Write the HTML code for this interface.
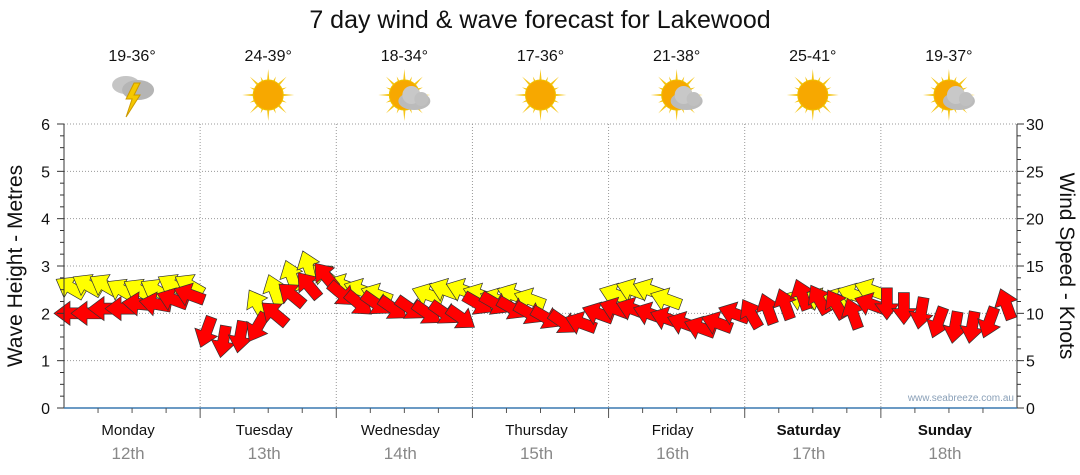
<!DOCTYPE html>
<html><head><meta charset="utf-8"><style>
body{margin:0;background:#fff;font-family:"Liberation Sans","DejaVu Sans",sans-serif}
svg{display:block}
</style></head><body>
<svg id="chart" width="1080" height="475" font-family="Liberation Sans, DejaVu Sans, sans-serif">
<text x="540" y="28" font-size="25" text-anchor="middle" fill="#111">7 day wind &amp; wave forecast for Lakewood</text>
<g id="grid"></g><g id="icons"></g><g id="marks"></g><g id="axes"></g>
<text transform="translate(22,266) rotate(-90)" font-size="21" text-anchor="middle" fill="#111">Wave Height - Metres</text>
<text transform="translate(1060,266) rotate(90)" font-size="21" text-anchor="middle" fill="#111">Wind Speed - Knots</text>
<text x="1014" y="401" font-size="10" text-anchor="end" fill="#8aa0b8">www.seabreeze.com.au</text>
</svg>
<script>
const days=["Monday","Tuesday","Wednesday","Thursday","Friday","Saturday","Sunday"];
const dates=["12th","13th","14th","15th","16th","17th","18th"];
const temps=["19-36°","24-39°","18-34°","17-36°","21-38°","25-41°","19-37°"];
const weather=["storm","sun","partly","sun","partly","sun","partly"];
const leftTicks=[0,1,2,3,4,5,6];
const rightTicks=[0,5,10,15,20,25,30];
const windKnots=[10,10,10.5,10.5,11,11,11.5,12, 8,7,7.5,8.5,10,12,13,14, 12,11,11,10.5,10.5,10,10,9.5, 11,11,10.5,10,9.5,9,9,10, 10.5,10.5,10,9.5,9,8.5,9,10, 10,10.5,11,12,11.5,11,10,11, 11,10.5,10,9,8.5,8.5,9,11];
const windDir=[180,180,180,180,185,190,200,200, 110,100,100,120,220,220,230,230, 40,40,35,35,35,35,35,35, 30,30,30,30,30,35,200,200, 200,200,200,200,200,200,200,200, 240,250,250,250,240,240,250,200, 90,90,100,110,100,100,110,250];
const waveHeight=[2.55,2.6,2.6,2.5,2.5,2.5,2.6,2.6, null,null,null,2.2,2.5,2.8,3.0,2.8, 2.6,2.5,2.4,null,null,2.4,2.5,2.5, 2.4,2.3,2.4,2.3,null,null,null,null, 2.4,2.5,2.5,2.3,null,null,null,null, null,null,null,2.3,2.3,2.3,2.4,2.5, null,null,null,null,null,null,null,null];
const waveDir=[210,210,210,210,210,210,210,210, 250,250,250,240,250,250,250,220, 200,200,200,200,200,200,200,200, 200,200,200,200,200,200,200,200, 200,200,200,200,200,200,200,200, 200,200,200,200,200,200,200,200, 200,200,200,200,200,200,200,200];

const X0=64,X1=1017,Y0=408,Y1=124,NS="http://www.w3.org/2000/svg";
const dayW=(X1-X0)/7;
function xT(i){return X0+i*dayW/8+6;}
function yM(m){return Y0-(m/6)*(Y0-Y1);}
function yK(k){return Y0-(k/30)*(Y0-Y1);}
function mk(tag,attrs,parent,text){const e=document.createElementNS(NS,tag);for(const k in attrs)e.setAttribute(k,attrs[k]);if(text!==undefined)e.textContent=text;parent.appendChild(e);return e;}
const grid=document.getElementById('grid'),axes=document.getElementById('axes'),marks=document.getElementById('marks'),icons=document.getElementById('icons');
leftTicks.forEach((v,i)=>{const y=yM(v);
 if(v>0){const g=mk('line',{x1:X0,x2:X1,y1:y,y2:y,stroke:'#999','stroke-dasharray':'1,2'},grid);}
 const t=mk('text',{x:50,y:y+6,'font-size':16,'text-anchor':'end',fill:'#111'},axes,v);
 const r=mk('text',{x:1026,y:yK(rightTicks[i])+6,'font-size':16,fill:'#111'},axes,rightTicks[i]);
});
for(let m=0;m<=24;m++){const y=yM(m/4);mk('line',{x1:X0-(m%4?4:7),x2:X0,y1:y,y2:y,stroke:'#333'},axes);mk('line',{x1:X1,x2:X1+(m%4?4:7),y1:y,y2:y,stroke:'#333'},axes);}
mk('line',{x1:X0,x2:X0,y1:Y1,y2:Y0,stroke:'#333'},axes);
mk('line',{x1:X1,x2:X1,y1:Y1,y2:Y0,stroke:'#333'},axes);
mk('line',{x1:X0,x2:X1,y1:Y0,y2:Y0,stroke:'#3a78b0','stroke-width':1.5},axes);
days.forEach((d,i)=>{const cx=X0+dayW*(i+0.5);
 if(i>0){const g=mk('line',{x1:X0+dayW*i,x2:X0+dayW*i,y1:Y1,y2:Y0+3,stroke:'#999','stroke-dasharray':'1,2'},grid);mk('line',{x1:X0+dayW*i,x2:X0+dayW*i,y1:Y0,y2:Y0+10,stroke:'#555'},axes);}
 [0.25,0.5,0.75].forEach(f=>mk('line',{x1:X0+dayW*(i+f),x2:X0+dayW*(i+f),y1:Y0,y2:Y0+5,stroke:'#555'},axes));
 const a=mk('text',{x:cx-4,y:435,'font-size':15,'text-anchor':'middle',fill:'#111','font-weight':i>=5?'bold':'normal'},axes,d);
 const b=mk('text',{x:cx-4,y:459,'font-size':17,'text-anchor':'middle',fill:'#888'},axes,dates[i]);
 const t=mk('text',{x:cx,y:61,'font-size':16,'text-anchor':'middle',fill:'#111'},icons,temps[i]);
 const g=mk('g',{transform:`translate(${cx},95)`},icons);
 const w=weather[i];
 if(w!=='storm'){for(let k=0;k<16;k++){const an=k*Math.PI/8,L=k%2?20:26;mk('polygon',{points:`${Math.cos(an)*L},${Math.sin(an)*L} ${Math.cos(an+0.12)*12},${Math.sin(an+0.12)*12} ${Math.cos(an-0.12)*12},${Math.sin(an-0.12)*12}`,fill:'#f5c518'},g);}
  mk('circle',{cx:0,cy:0,r:15,fill:'#f7a800',stroke:'#f0c000'},g);}
 if(w==='partly'){mk('ellipse',{cx:10,cy:6,rx:16,ry:9,fill:'#bbb'},g);mk('circle',{cx:7,cy:0,r:9,fill:'#c8c8c8'},g);mk('circle',{cx:17,cy:4,r:7,fill:'#c0c0c0'},g);}
 if(w==='storm'){mk('ellipse',{cx:-6,cy:-10,rx:14,ry:9,fill:'#c5c5c5'},g);mk('ellipse',{cx:6,cy:-5,rx:16,ry:10,fill:'#b5b5b5'},g);mk('polygon',{points:'2,-12 -6,4 0,4 -6,22 8,0 2,0 8,-12',fill:'#f5c800',stroke:'#c90'},g);}
});
function arrow(x,y,ang,fill,name){const p=mk('polygon',{points:'-16,-5.5 0,-5.5 0,-12 16,0 0,12 0,5.5 -16,5.5',transform:`translate(${x},${y}) rotate(${ang})`,fill:fill,stroke:'#333','stroke-width':0.7},marks);}
waveHeight.forEach((h,i)=>{if(h!==null)arrow(xT(i),yM(h),waveDir[i],'#ffff00','wave-arrow');});
windKnots.forEach((k,i)=>arrow(xT(i),yK(k),windDir[i],'#ff0000','wind-arrow'));
</script>
</body></html>
